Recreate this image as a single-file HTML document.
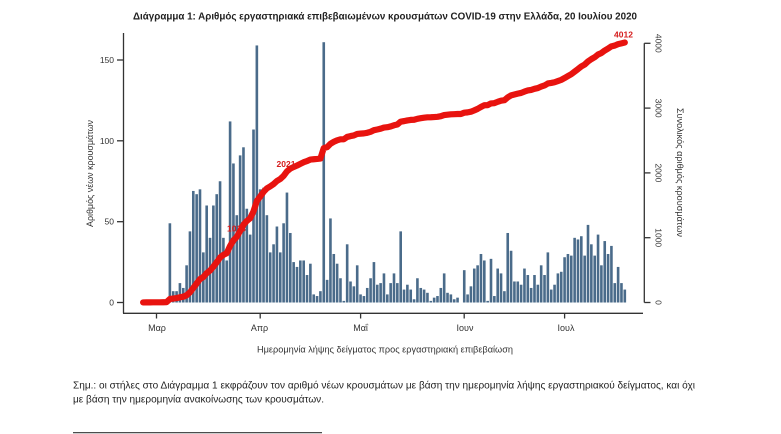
<!DOCTYPE html>
<html>
<head>
<meta charset="utf-8">
<style>
html,body{margin:0;padding:0;background:#fff;}
svg{display:block;}
text{font-family:"Liberation Sans","DejaVu Sans",sans-serif;}
</style>
</head>
<body>
<svg width="781" height="434" viewBox="0 0 781 434" xmlns="http://www.w3.org/2000/svg">
<rect width="781" height="434" fill="#fff"/>
<!-- Title -->
<text x="133" y="19.5" font-size="10.5" font-weight="bold" fill="#222" textLength="504" lengthAdjust="spacingAndGlyphs">Διάγραμμα 1: Αριθμός εργαστηριακά επιβεβαιωμένων κρουσμάτων COVID-19 στην Ελλάδα, 20 Ιουλίου 2020</text>

<!-- Bars -->
<g transform="translate(155.2,302.5) scale(3.345,-1.6167)" fill="#4a6b8a">
<rect x="-4" width=".78" height="1"/><rect x="-3" width=".78" height="1"/><rect x="-2" width=".78" height="0"/><rect x="-1" width=".78" height="1"/><rect x="0" width=".78" height="0"/><rect x="1" width=".78" height="0"/><rect x="2" width=".78" height="1"/><rect x="3" width=".78" height="1"/>
<rect x="4" width=".78" height="49"/><rect x="5" width=".78" height="7"/><rect x="6" width=".78" height="7"/><rect x="7" width=".78" height="12"/><rect x="8" width=".78" height="9"/><rect x="9" width=".78" height="23"/><rect x="10" width=".78" height="44"/><rect x="11" width=".78" height="69"/><rect x="12" width=".78" height="67"/><rect x="13" width=".78" height="70"/><rect x="14" width=".78" height="31"/><rect x="15" width=".78" height="60"/><rect x="16" width=".78" height="40"/><rect x="17" width=".78" height="60"/><rect x="18" width=".78" height="67"/><rect x="19" width=".78" height="75"/><rect x="20" width=".78" height="40"/><rect x="21" width=".78" height="26"/><rect x="22" width=".78" height="112"/><rect x="23" width=".78" height="86"/><rect x="24" width=".78" height="54"/><rect x="25" width=".78" height="91"/><rect x="26" width=".78" height="96"/><rect x="27" width=".78" height="58"/><rect x="28" width=".78" height="42"/><rect x="29" width=".78" height="107"/><rect x="30" width=".78" height="159"/>
<rect x="31" width=".78" height="70"/><rect x="32" width=".78" height="71"/><rect x="33" width=".78" height="54"/><rect x="34" width=".78" height="31"/><rect x="35" width=".78" height="36"/><rect x="36" width=".78" height="47"/><rect x="37" width=".78" height="31"/><rect x="38" width=".78" height="49"/><rect x="39" width=".78" height="68"/><rect x="40" width=".78" height="43"/><rect x="41" width=".78" height="25"/><rect x="42" width=".78" height="22"/><rect x="43" width=".78" height="26"/><rect x="44" width=".78" height="26"/><rect x="45" width=".78" height="17"/><rect x="46" width=".78" height="24"/><rect x="47" width=".78" height="5"/><rect x="48" width=".78" height="4"/><rect x="49" width=".78" height="7"/>
<rect x="50" width=".78" height="161"/><rect x="51" width=".78" height="14"/><rect x="52" width=".78" height="52"/><rect x="53" width=".78" height="30"/><rect x="54" width=".78" height="24"/><rect x="55" width=".78" height="15"/><rect x="56" width=".78" height="1"/><rect x="57" width=".78" height="36"/><rect x="58" width=".78" height="13"/><rect x="59" width=".78" height="10"/><rect x="60" width=".78" height="23"/><rect x="61" width=".78" height="5"/><rect x="62" width=".78" height="4"/><rect x="63" width=".78" height="9"/><rect x="64" width=".78" height="15"/><rect x="65" width=".78" height="25"/><rect x="66" width=".78" height="11"/><rect x="67" width=".78" height="12"/><rect x="68" width=".78" height="18"/>
<rect x="69" width=".78" height="5"/><rect x="70" width=".78" height="12"/><rect x="71" width=".78" height="18"/><rect x="72" width=".78" height="12"/><rect x="73" width=".78" height="44"/><rect x="74" width=".78" height="8"/><rect x="75" width=".78" height="11"/><rect x="76" width=".78" height="8"/><rect x="77" width=".78" height="2"/><rect x="78" width=".78" height="15"/><rect x="79" width=".78" height="9"/><rect x="80" width=".78" height="8"/><rect x="81" width=".78" height="6"/><rect x="82" width=".78" height="1"/><rect x="83" width=".78" height="3"/><rect x="84" width=".78" height="4"/><rect x="85" width=".78" height="9"/><rect x="86" width=".78" height="18"/><rect x="87" width=".78" height="6"/><rect x="88" width=".78" height="5"/><rect x="89" width=".78" height="2"/><rect x="90" width=".78" height="3"/><rect x="91" width=".78" height="0"/><rect x="92" width=".78" height="20"/><rect x="93" width=".78" height="5"/><rect x="94" width=".78" height="10"/><rect x="95" width=".78" height="21"/><rect x="96" width=".78" height="23"/><rect x="97" width=".78" height="30"/><rect x="98" width=".78" height="26"/><rect x="99" width=".78" height="1"/><rect x="100" width=".78" height="27"/><rect x="101" width=".78" height="4"/><rect x="102" width=".78" height="21"/><rect x="103" width=".78" height="18"/><rect x="104" width=".78" height="7"/><rect x="105" width=".78" height="43"/><rect x="106" width=".78" height="32"/><rect x="107" width=".78" height="13"/>
<rect x="108" width=".78" height="13"/><rect x="109" width=".78" height="11"/><rect x="110" width=".78" height="21"/><rect x="111" width=".78" height="17"/><rect x="112" width=".78" height="9"/><rect x="113" width=".78" height="17"/><rect x="114" width=".78" height="11"/><rect x="115" width=".78" height="23"/><rect x="116" width=".78" height="17"/><rect x="117" width=".78" height="31"/><rect x="118" width=".78" height="8"/><rect x="119" width=".78" height="11"/><rect x="120" width=".78" height="18"/><rect x="121" width=".78" height="19"/><rect x="122" width=".78" height="28"/><rect x="123" width=".78" height="30"/><rect x="124" width=".78" height="29"/><rect x="125" width=".78" height="40"/><rect x="126" width=".78" height="39"/><rect x="127" width=".78" height="41"/><rect x="128" width=".78" height="29"/><rect x="129" width=".78" height="48"/><rect x="130" width=".78" height="36"/><rect x="131" width=".78" height="29"/><rect x="132" width=".78" height="42"/><rect x="133" width=".78" height="23"/><rect x="134" width=".78" height="38"/><rect x="135" width=".78" height="30"/><rect x="136" width=".78" height="35"/><rect x="137" width=".78" height="12"/><rect x="138" width=".78" height="22"/><rect x="139" width=".78" height="12"/><rect x="140" width=".78" height="8"/>
</g>

<!-- Axes -->
<g stroke="#333" stroke-width="1.3" fill="none">
<line x1="123.5" y1="33" x2="123.5" y2="313.3"/>
<line x1="123" y1="313.3" x2="643" y2="313.3"/>
<line x1="117" y1="302.5" x2="123.5" y2="302.5"/>
<line x1="117" y1="221.7" x2="123.5" y2="221.7"/>
<line x1="117" y1="140.8" x2="123.5" y2="140.8"/>
<line x1="117" y1="60" x2="123.5" y2="60"/>
<line x1="156.5" y1="313.3" x2="156.5" y2="318.5"/>
<line x1="260.2" y1="313.3" x2="260.2" y2="318.5"/>
<line x1="360.6" y1="313.3" x2="360.6" y2="318.5"/>
<line x1="464.2" y1="313.3" x2="464.2" y2="318.5"/>
<line x1="564.6" y1="313.3" x2="564.6" y2="318.5"/>
<line x1="644.3" y1="43.3" x2="644.3" y2="302.5"/>
<line x1="644.3" y1="302.5" x2="650.5" y2="302.5"/>
<line x1="644.3" y1="237.7" x2="650.5" y2="237.7"/>
<line x1="644.3" y1="172.9" x2="650.5" y2="172.9"/>
<line x1="644.3" y1="108.1" x2="650.5" y2="108.1"/>
<line x1="644.3" y1="43.3" x2="650.5" y2="43.3"/>
</g>

<!-- Left tick labels -->
<g font-size="8.5" fill="#333" text-anchor="end">
<text x="114" y="305.5">0</text>
<text x="114" y="224.7">50</text>
<text x="114" y="143.8">100</text>
<text x="114" y="63">150</text>
</g>
<!-- Right tick labels (rotated) -->
<g font-size="8.5" fill="#333" text-anchor="middle">
<text transform="translate(655.5,302.5) rotate(90)">0</text>
<text transform="translate(655.5,237.7) rotate(90)">1000</text>
<text transform="translate(655.5,172.9) rotate(90)">2000</text>
<text transform="translate(655.5,108.1) rotate(90)">3000</text>
<text transform="translate(655.5,43.3) rotate(90)">4000</text>
</g>
<!-- X tick labels -->
<g font-size="9" fill="#333" text-anchor="middle">
<text x="157" y="331">Μαρ</text>
<text x="259.5" y="331">Απρ</text>
<text x="360.6" y="331">Μαΐ</text>
<text x="465" y="331">Ιουν</text>
<text x="566" y="331">Ιουλ</text>
</g>
<!-- Axis titles -->
<text x="257" y="352.5" font-size="9.5" fill="#333" textLength="256" lengthAdjust="spacingAndGlyphs">Ημερομηνία λήψης δείγματος προς εργαστηριακή επιβεβαίωση</text>
<text transform="translate(93,173.5) rotate(-90)" font-size="9.5" fill="#333" text-anchor="middle" textLength="107" lengthAdjust="spacingAndGlyphs">Αριθμός νέων κρουσμάτων</text>
<text transform="translate(677,172.5) rotate(90)" font-size="9.5" fill="#333" text-anchor="middle" textLength="129" lengthAdjust="spacingAndGlyphs">Συνολικός αριθμός κρουσμάτων</text>

<!-- label under line -->
<text x="227" y="231.5" font-size="8.5" font-weight="bold" fill="#d51c1c">1013</text>

<!-- Cumulative line -->
<g transform="translate(156.5,302.5) scale(3.345,-0.0648)">
<polyline fill="none" stroke="#e8130f" stroke-width="6.2" stroke-linejoin="round" stroke-linecap="round" vector-effect="non-scaling-stroke" points="-4,1 -3,2 -2,2 -1,3 0,3 1,3 2,4 3,5 4,54 5,61 6,68 7,80 8,89 9,112 10,156 11,225 12,292 13,362 14,393 15,453 16,493 17,553 18,620 19,695 20,735 21,761 22,873 23,959 24,1013 25,1104 26,1200 27,1258 28,1300 29,1407 30,1566 31,1636 32,1707 33,1761 34,1792 35,1828 36,1875 37,1906 38,1955 39,2023 40,2066 41,2091 42,2113 43,2139 44,2165 45,2182 46,2206 47,2211 48,2215 49,2222 50,2383 51,2397 52,2449 53,2479 54,2503 55,2518 56,2519 57,2555 58,2568 59,2578 60,2601 61,2606 62,2610 63,2619 64,2634 65,2659 66,2670 67,2682 68,2700 69,2705 70,2717 71,2735 72,2747 73,2791 74,2799 75,2810 76,2818 77,2820 78,2835 79,2844 80,2852 81,2858 82,2859 83,2862 84,2866 85,2875 86,2893 87,2899 88,2904 89,2906 90,2909 91,2909 92,2929 93,2934 94,2944 95,2965 96,2988 97,3018 98,3044 99,3045 100,3072 101,3076 102,3097 103,3115 104,3122 105,3165 106,3197 107,3210 108,3223 109,3234 110,3255 111,3272 112,3281 113,3298 114,3309 115,3332 116,3349 117,3380 118,3388 119,3399 120,3417 121,3436 122,3464 123,3494 124,3523 125,3563 126,3602 127,3643 128,3672 129,3720 130,3756 131,3785 132,3827 133,3850 134,3888 135,3918 136,3953 137,3965 138,3987 139,3999 140,4012"/>
</g>

<!-- Red value labels -->
<g font-size="8.5" font-weight="bold" fill="#d51c1c" text-anchor="middle">
<text x="286" y="167">2021</text>
<text x="623.5" y="37.5">4012</text>
</g>

<!-- Footnote -->
<text x="73" y="388.5" font-size="10" fill="#222" textLength="622" lengthAdjust="spacingAndGlyphs">Σημ.: οι στήλες στο Διάγραμμα 1 εκφράζουν τον αριθμό νέων κρουσμάτων με βάση την ημερομηνία λήψης εργαστηριακού δείγματος, και όχι</text>
<text x="73" y="402.5" font-size="10" fill="#222" textLength="251" lengthAdjust="spacingAndGlyphs">με βάση την ημερομηνία ανακοίνωσης των κρουσμάτων.</text>
<line x1="73" y1="432.7" x2="322" y2="432.7" stroke="#333" stroke-width="1.2"/>
</svg>
</body>
</html>
